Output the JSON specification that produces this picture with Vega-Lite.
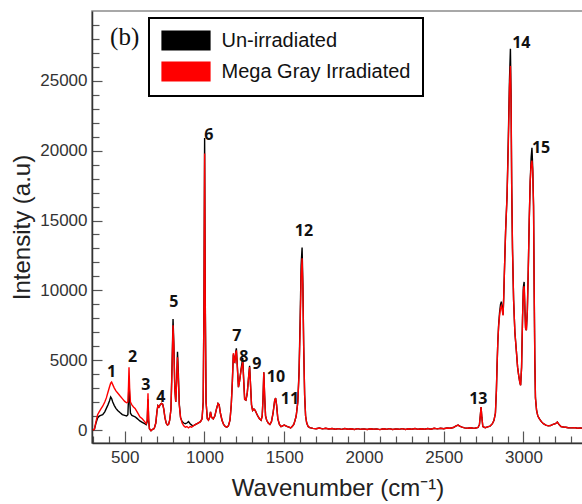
{
  "$schema": "https://vega.github.io/schema/vega-lite/v6.json",
  "width": 491,
  "height": 432,
  "autosize": {"type": "none"},
  "padding": {"left": 92, "top": 11, "right": 0, "bottom": 61},
  "background": "white",
  "config": {"view": {"stroke": "#8c8c8c", "strokeWidth": 1.5}, "font": "Liberation Sans"},
  "datasets": {
    "black": [
      {"x":300,"y":0},{"x":310,"y":60},{"x":320,"y":500},{"x":330,"y":850},{"x":340,"y":1000},{"x":350,"y":1050},{"x":362,"y":1100},{"x":375,"y":1300},{"x":385,"y":1550},{"x":395,"y":1800},{"x":405,"y":2100},{"x":412,"y":2360},{"x":418,"y":2250},{"x":425,"y":2000},{"x":435,"y":1750},{"x":445,"y":1550},{"x":456,"y":1400},{"x":470,"y":1250},{"x":485,"y":1100},{"x":500,"y":1050},{"x":512,"y":1000},{"x":520,"y":1100},{"x":524,"y":2300},{"x":527,"y":3600},{"x":531,"y":2200},{"x":536,"y":1200},{"x":545,"y":1050},{"x":555,"y":1000},{"x":565,"y":950},{"x":575,"y":850},{"x":585,"y":750},{"x":595,"y":650},{"x":610,"y":550},{"x":625,"y":450},{"x":635,"y":380},{"x":641,"y":600},{"x":646,"y":2200},{"x":650,"y":700},{"x":655,"y":100},{"x":665,"y":-50},{"x":675,"y":50},{"x":685,"y":100},{"x":695,"y":500},{"x":702,"y":1300},{"x":708,"y":1750},{"x":715,"y":1650},{"x":722,"y":1800},{"x":730,"y":1900},{"x":738,"y":1850},{"x":745,"y":1500},{"x":752,"y":900},{"x":760,"y":500},{"x":768,"y":350},{"x":775,"y":400},{"x":782,"y":700},{"x":790,"y":1500},{"x":797,"y":4700},{"x":803,"y":7950},{"x":808,"y":6200},{"x":814,"y":3000},{"x":820,"y":2000},{"x":826,"y":3700},{"x":831,"y":5600},{"x":836,"y":4200},{"x":842,"y":1900},{"x":850,"y":900},{"x":860,"y":600},{"x":870,"y":500},{"x":880,"y":450},{"x":890,"y":500},{"x":900,"y":600},{"x":910,"y":450},{"x":920,"y":350},{"x":930,"y":300},{"x":945,"y":400},{"x":960,"y":500},{"x":975,"y":600},{"x":985,"y":800},{"x":992,"y":2000},{"x":997,"y":9500},{"x":1001,"y":20900},{"x":1005,"y":9500},{"x":1010,"y":2000},{"x":1018,"y":800},{"x":1025,"y":700},{"x":1032,"y":900},{"x":1038,"y":1300},{"x":1045,"y":900},{"x":1055,"y":800},{"x":1065,"y":1000},{"x":1075,"y":1500},{"x":1085,"y":1900},{"x":1092,"y":1800},{"x":1100,"y":1200},{"x":1110,"y":700},{"x":1120,"y":400},{"x":1130,"y":250},{"x":1140,"y":200},{"x":1150,"y":300},{"x":1160,"y":700},{"x":1168,"y":1800},{"x":1175,"y":3500},{"x":1181,"y":5400},{"x":1186,"y":5000},{"x":1190,"y":4900},{"x":1196,"y":5600},{"x":1200,"y":5850},{"x":1206,"y":4600},{"x":1213,"y":3070},{"x":1220,"y":3500},{"x":1230,"y":4400},{"x":1240,"y":5150},{"x":1246,"y":3600},{"x":1252,"y":2200},{"x":1260,"y":2140},{"x":1268,"y":2600},{"x":1276,"y":3700},{"x":1283,"y":4600},{"x":1289,"y":3200},{"x":1295,"y":1800},{"x":1302,"y":1400},{"x":1310,"y":1500},{"x":1318,"y":1400},{"x":1326,"y":1200},{"x":1335,"y":1000},{"x":1345,"y":800},{"x":1355,"y":700},{"x":1362,"y":1000},{"x":1367,"y":2200},{"x":1372,"y":4140},{"x":1377,"y":2500},{"x":1383,"y":1000},{"x":1390,"y":700},{"x":1400,"y":500},{"x":1410,"y":400},{"x":1420,"y":600},{"x":1430,"y":1200},{"x":1440,"y":2100},{"x":1446,"y":2290},{"x":1452,"y":1800},{"x":1460,"y":800},{"x":1470,"y":400},{"x":1480,"y":250},{"x":1490,"y":300},{"x":1500,"y":350},{"x":1510,"y":300},{"x":1520,"y":250},{"x":1530,"y":200},{"x":1540,"y":150},{"x":1550,"y":250},{"x":1560,"y":400},{"x":1568,"y":700},{"x":1575,"y":1000},{"x":1585,"y":2000},{"x":1593,"y":4200},{"x":1600,"y":8000},{"x":1606,"y":11800},{"x":1612,"y":13070},{"x":1617,"y":10500},{"x":1622,"y":6000},{"x":1628,"y":2500},{"x":1634,"y":1000},{"x":1641,"y":500},{"x":1650,"y":250},
      {"x":1660,"y":170},{"x":1680,"y":120},{"x":1700,"y":90},{"x":1720,"y":140},{"x":1740,"y":80},{"x":1760,"y":120},{"x":1780,"y":70},{"x":1800,"y":110},{"x":1820,"y":60},{"x":1840,"y":100},{"x":1860,"y":50},{"x":1880,"y":110},{"x":1900,"y":60},{"x":1920,"y":90},{"x":1940,"y":40},{"x":1960,"y":100},{"x":1980,"y":50},{"x":2000,"y":80},{"x":2020,"y":40},{"x":2040,"y":90},{"x":2060,"y":50},{"x":2080,"y":80},{"x":2100,"y":30},{"x":2120,"y":90},{"x":2140,"y":50},{"x":2160,"y":100},{"x":2180,"y":40},{"x":2200,"y":80},{"x":2220,"y":50},{"x":2240,"y":100},{"x":2260,"y":40},{"x":2280,"y":90},{"x":2300,"y":60},{"x":2320,"y":110},{"x":2340,"y":50},{"x":2360,"y":90},{"x":2380,"y":60},{"x":2400,"y":110},{"x":2420,"y":60},{"x":2440,"y":120},{"x":2460,"y":80},{"x":2480,"y":130},{"x":2500,"y":90},{"x":2520,"y":140},{"x":2540,"y":130},{"x":2560,"y":180},{"x":2575,"y":280},{"x":2590,"y":350},{"x":2600,"y":280},{"x":2615,"y":200},{"x":2630,"y":150},{"x":2650,"y":130},{"x":2670,"y":160},{"x":2690,"y":120},{"x":2700,"y":140},{"x":2715,"y":180},
      {"x":2724,"y":400},{"x":2729,"y":1000},{"x":2734,"y":1650},{"x":2739,"y":900},{"x":2745,"y":250},{"x":2760,"y":170},{"x":2775,"y":220},{"x":2790,"y":270},{"x":2805,"y":450},{"x":2815,"y":700},{"x":2824,"y":1200},{"x":2830,"y":2800},{"x":2834,"y":4500},{"x":2839,"y":6300},{"x":2844,"y":7500},{"x":2850,"y":8400},{"x":2856,"y":9000},{"x":2861,"y":9190},{"x":2866,"y":8800},{"x":2872,"y":8250},{"x":2876,"y":9500},{"x":2882,"y":12000},{"x":2888,"y":14300},{"x":2897,"y":16800},{"x":2905,"y":21000},{"x":2912,"y":25000},{"x":2918,"y":27290},{"x":2922,"y":24000},{"x":2926,"y":17500},{"x":2931,"y":13000},{"x":2938,"y":9300},{"x":2946,"y":7000},{"x":2955,"y":5700},{"x":2963,"y":4500},{"x":2970,"y":3900},{"x":2977,"y":3400},{"x":2982,"y":3210},{"x":2988,"y":4500},{"x":2994,"y":8000},{"x":2999,"y":10200},{"x":3004,"y":10600},{"x":3009,"y":8600},{"x":3013,"y":7300},{"x":3018,"y":7140},{"x":3024,"y":8500},{"x":3030,"y":11500},{"x":3036,"y":15000},{"x":3042,"y":17800},{"x":3048,"y":19500},{"x":3053,"y":20200},{"x":3058,"y":18700},{"x":3063,"y":16000},{"x":3067,"y":10000},{"x":3071,"y":5000},{"x":3075,"y":2300},{"x":3082,"y":1400},{"x":3090,"y":1000},{"x":3100,"y":800},{"x":3112,"y":600},{"x":3125,"y":450},{"x":3140,"y":350},{"x":3155,"y":300},{"x":3170,"y":320},{"x":3185,"y":400},{"x":3200,"y":450},{"x":3212,"y":570},{"x":3222,"y":400},{"x":3235,"y":250},{"x":3250,"y":220},{"x":3265,"y":200},{"x":3280,"y":160},{"x":3300,"y":150},{"x":3320,"y":170},{"x":3340,"y":130},{"x":3360,"y":150},{"x":3373,"y":120}
    ],
    "red": [
      {"x":300,"y":0},{"x":310,"y":60},{"x":320,"y":600},{"x":330,"y":1100},{"x":340,"y":1300},{"x":350,"y":1500},{"x":362,"y":1700},{"x":375,"y":2000},{"x":385,"y":2300},{"x":395,"y":2700},{"x":405,"y":3100},{"x":412,"y":3350},{"x":418,"y":3430},{"x":425,"y":3250},{"x":435,"y":3000},{"x":445,"y":2800},{"x":456,"y":2650},{"x":470,"y":2450},{"x":485,"y":2250},{"x":500,"y":2050},{"x":512,"y":1950},{"x":520,"y":2000},{"x":524,"y":3200},{"x":527,"y":4500},{"x":531,"y":3000},{"x":536,"y":2000},{"x":545,"y":1800},{"x":555,"y":1650},{"x":565,"y":1550},{"x":575,"y":1350},{"x":585,"y":1150},{"x":595,"y":950},{"x":610,"y":800},{"x":625,"y":600},{"x":635,"y":450},{"x":641,"y":700},{"x":646,"y":2630},{"x":650,"y":800},{"x":655,"y":100},{"x":665,"y":-50},{"x":675,"y":50},{"x":685,"y":100},{"x":695,"y":500},{"x":702,"y":1300},{"x":708,"y":1750},{"x":715,"y":1650},{"x":722,"y":1800},{"x":730,"y":1900},{"x":738,"y":1850},{"x":745,"y":1500},{"x":752,"y":900},{"x":760,"y":500},{"x":768,"y":350},{"x":775,"y":400},{"x":782,"y":700},{"x":790,"y":1500},{"x":797,"y":4500},{"x":803,"y":7500},{"x":808,"y":6000},{"x":814,"y":3000},{"x":820,"y":2000},{"x":826,"y":3500},{"x":831,"y":5200},{"x":836,"y":3800},{"x":842,"y":1800},{"x":850,"y":900},{"x":860,"y":500},{"x":870,"y":300},{"x":880,"y":200},{"x":890,"y":250},{"x":900,"y":150},{"x":910,"y":250},{"x":920,"y":200},{"x":930,"y":300},{"x":945,"y":400},{"x":960,"y":500},{"x":975,"y":600},{"x":985,"y":800},{"x":992,"y":2000},{"x":997,"y":9000},{"x":1001,"y":19800},{"x":1005,"y":9000},{"x":1010,"y":2000},{"x":1018,"y":800},{"x":1025,"y":700},{"x":1032,"y":900},{"x":1038,"y":1300},{"x":1045,"y":900},{"x":1055,"y":800},{"x":1065,"y":1000},{"x":1075,"y":1500},{"x":1085,"y":1900},{"x":1092,"y":1800},{"x":1100,"y":1200},{"x":1110,"y":700},{"x":1120,"y":400},{"x":1130,"y":250},{"x":1140,"y":200},{"x":1150,"y":300},{"x":1160,"y":700},{"x":1168,"y":1800},{"x":1175,"y":3500},{"x":1181,"y":5500},{"x":1186,"y":5000},{"x":1190,"y":4800},{"x":1196,"y":5500},{"x":1200,"y":5700},{"x":1206,"y":4500},{"x":1213,"y":3070},{"x":1220,"y":3500},{"x":1230,"y":4300},{"x":1240,"y":4860},{"x":1246,"y":3500},{"x":1252,"y":2200},{"x":1260,"y":2140},{"x":1268,"y":2600},{"x":1276,"y":3700},{"x":1283,"y":4500},{"x":1289,"y":3200},{"x":1295,"y":1800},{"x":1302,"y":1400},{"x":1310,"y":1500},{"x":1318,"y":1400},{"x":1326,"y":1200},{"x":1335,"y":1000},{"x":1345,"y":800},{"x":1355,"y":700},{"x":1362,"y":1000},{"x":1367,"y":2200},{"x":1372,"y":4140},{"x":1377,"y":2500},{"x":1383,"y":1000},{"x":1390,"y":700},{"x":1400,"y":500},{"x":1410,"y":400},{"x":1420,"y":600},{"x":1430,"y":1200},{"x":1440,"y":2100},{"x":1446,"y":2290},{"x":1452,"y":1800},{"x":1460,"y":800},{"x":1470,"y":400},{"x":1480,"y":250},{"x":1490,"y":300},{"x":1500,"y":350},{"x":1510,"y":300},{"x":1520,"y":250},{"x":1530,"y":200},{"x":1540,"y":150},{"x":1550,"y":250},{"x":1560,"y":400},{"x":1568,"y":700},{"x":1575,"y":1000},{"x":1585,"y":2000},{"x":1593,"y":4000},{"x":1600,"y":7500},{"x":1606,"y":11000},{"x":1612,"y":12290},{"x":1617,"y":10000},{"x":1622,"y":6000},{"x":1628,"y":2500},{"x":1634,"y":1000},{"x":1641,"y":500},{"x":1650,"y":250},
      {"x":1660,"y":170},{"x":1680,"y":120},{"x":1700,"y":90},{"x":1720,"y":140},{"x":1740,"y":80},{"x":1760,"y":120},{"x":1780,"y":70},{"x":1800,"y":110},{"x":1820,"y":60},{"x":1840,"y":100},{"x":1860,"y":50},{"x":1880,"y":110},{"x":1900,"y":60},{"x":1920,"y":90},{"x":1940,"y":40},{"x":1960,"y":100},{"x":1980,"y":50},{"x":2000,"y":80},{"x":2020,"y":40},{"x":2040,"y":90},{"x":2060,"y":50},{"x":2080,"y":80},{"x":2100,"y":30},{"x":2120,"y":90},{"x":2140,"y":50},{"x":2160,"y":100},{"x":2180,"y":40},{"x":2200,"y":80},{"x":2220,"y":50},{"x":2240,"y":100},{"x":2260,"y":40},{"x":2280,"y":90},{"x":2300,"y":60},{"x":2320,"y":110},{"x":2340,"y":50},{"x":2360,"y":90},{"x":2380,"y":60},{"x":2400,"y":110},{"x":2420,"y":60},{"x":2440,"y":120},{"x":2460,"y":80},{"x":2480,"y":130},{"x":2500,"y":90},{"x":2520,"y":140},{"x":2540,"y":130},{"x":2560,"y":180},{"x":2575,"y":280},{"x":2590,"y":350},{"x":2600,"y":280},{"x":2615,"y":200},{"x":2630,"y":150},{"x":2650,"y":130},{"x":2670,"y":160},{"x":2690,"y":120},{"x":2700,"y":140},{"x":2715,"y":180},
      {"x":2724,"y":400},{"x":2729,"y":1000},{"x":2734,"y":1650},{"x":2739,"y":900},{"x":2745,"y":250},{"x":2760,"y":170},{"x":2775,"y":220},{"x":2790,"y":270},{"x":2805,"y":450},{"x":2815,"y":700},{"x":2824,"y":1200},{"x":2830,"y":2800},{"x":2834,"y":4500},{"x":2839,"y":6300},{"x":2844,"y":7400},{"x":2850,"y":8200},{"x":2856,"y":8750},{"x":2861,"y":8900},{"x":2866,"y":8600},{"x":2872,"y":8200},{"x":2876,"y":9500},{"x":2882,"y":12000},{"x":2888,"y":14300},{"x":2897,"y":16800},{"x":2905,"y":20500},{"x":2912,"y":24500},{"x":2918,"y":26070},{"x":2922,"y":23500},{"x":2926,"y":17500},{"x":2931,"y":13000},{"x":2938,"y":9300},{"x":2946,"y":7000},{"x":2955,"y":5700},{"x":2963,"y":4500},{"x":2970,"y":3900},{"x":2977,"y":3400},{"x":2982,"y":3210},{"x":2988,"y":4500},{"x":2994,"y":8000},{"x":2999,"y":10000},{"x":3004,"y":10300},{"x":3009,"y":8500},{"x":3013,"y":7300},{"x":3018,"y":7140},{"x":3024,"y":8500},{"x":3030,"y":11500},{"x":3036,"y":15000},{"x":3042,"y":17800},{"x":3048,"y":19000},{"x":3053,"y":19290},{"x":3058,"y":18500},{"x":3063,"y":16000},{"x":3067,"y":10000},{"x":3071,"y":5000},{"x":3075,"y":2300},{"x":3082,"y":1400},{"x":3090,"y":1000},{"x":3100,"y":800},{"x":3112,"y":600},{"x":3125,"y":450},{"x":3140,"y":350},{"x":3155,"y":300},{"x":3170,"y":320},{"x":3185,"y":400},{"x":3200,"y":450},{"x":3212,"y":570},{"x":3222,"y":400},{"x":3235,"y":250},{"x":3250,"y":220},{"x":3265,"y":200},{"x":3280,"y":160},{"x":3300,"y":150},{"x":3320,"y":170},{"x":3340,"y":130},{"x":3360,"y":150},{"x":3373,"y":120}
    ],
    "peaks": [
      {"label":"1","x":418,"y":4155},{"label":"2","x":550,"y":5230},{"label":"3","x":632,"y":3220},{"label":"4","x":726,"y":2360},{"label":"5","x":808,"y":9170},{"label":"6","x":1028,"y":21130},{"label":"7","x":1203,"y":6730},{"label":"8","x":1247,"y":5230},{"label":"9","x":1329,"y":4730},{"label":"10","x":1448,"y":3800},{"label":"11","x":1536,"y":2220},{"label":"12","x":1624,"y":14250},{"label":"13","x":2717,"y":2220},{"label":"14","x":2986,"y":27720},{"label":"15","x":3110,"y":20200}
    ]
  },
  "layer": [
    {
      "data": {"name": "black"},
      "mark": {"type": "line", "strokeWidth": 1.4, "clip": true},
      "encoding": {
        "x": {
          "field": "x", "type": "quantitative",
          "scale": {"domain": [295, 3373], "nice": false, "zero": false},
          "axis": {
            "title": "Wavenumber (cm⁻¹)",
            "values": [300,400,500,600,700,800,900,1000,1100,1200,1300,1400,1500,1600,1700,1800,1900,2000,2100,2200,2300,2400,2500,2600,2700,2800,2900,3000,3100,3200,3300],
            "tickCount": 100,
            "format": "d",
            "labelExpr": "datum.value % 500 === 0 ? datum.label : ''",
            "grid": false,
            "domainColor": "#333333", "domainWidth": 1.5,
            "tickColor": "#555555", "tickWidth": 1.2,
            "tickSize": {"condition": {"test": "datum.value % 500 === 0", "value": -12}, "value": -7},
            "labelFont": "Liberation Sans", "labelFontSize": 17, "labelColor": "#333333",
            "labelPadding": 18, "labelFlush": false, "labelOverlap": false,
            "titleFont": "Liberation Sans", "titleFontSize": 24, "titleFontWeight": "normal", "titleColor": "#222222",
            "titlePadding": 6
          }
        },
        "y": {
          "field": "y", "type": "quantitative",
          "scale": {"domain": [-930, 30000], "nice": false, "zero": false},
          "axis": {
            "title": "Intensity (a.u)",
            "values": [0,1000,2000,3000,4000,5000,6000,7000,8000,9000,10000,11000,12000,13000,14000,15000,16000,17000,18000,19000,20000,21000,22000,23000,24000,25000,26000,27000,28000,29000],
            "tickCount": 100,
            "format": "d",
            "labelExpr": "datum.value % 5000 === 0 ? datum.label : ''",
            "grid": false,
            "domainColor": "#333333", "domainWidth": 1.5,
            "tickColor": "#555555", "tickWidth": 1.2,
            "tickSize": {"condition": {"test": "datum.value % 5000 === 0", "value": -10}, "value": -7},
            "labelFont": "Liberation Sans", "labelFontSize": 17, "labelColor": "#333333",
            "labelPadding": 15, "labelFlush": false, "labelOverlap": false,
            "titleFont": "Liberation Sans", "titleFontSize": 24, "titleFontWeight": "normal", "titleColor": "#222222",
            "titlePadding": 5
          }
        },
        "color": {
          "datum": "Un-irradiated", "type": "nominal",
          "scale": {"domain": ["Un-irradiated", "Mega Gray Irradiated"], "range": ["#000000", "#ff0000"]},
          "legend": {
            "orient": "none", "legendX": 57, "legendY": 7, "title": null,
            "strokeColor": "#000000", "fillColor": "#ffffff",
            "padding": 12, "rowPadding": 6,
            "symbolType": "M-2.526,-1H2.526V1H-2.526Z", "symbolSize": 361,
            "symbolStrokeColor": "#000000", "symbolStrokeWidth": 1.2,
            "symbolOffset": 14.5, "labelOffset": 25,
            "labelFont": "Liberation Sans", "labelFontSize": 20, "labelColor": "#111111", "labelLimit": 400,
            "encode": {
              "symbols": {"update": {"fill": {"scale": "color", "field": "value"}, "fillOpacity": {"value": 1}, "stroke": {"value": "#000000"}, "strokeWidth": {"value": 1.2}}},
              "legend": {"update": {"stroke": {"value": "#000000"}, "strokeWidth": {"value": 2}}}
            }
          }
        }
      }
    },
    {
      "data": {"name": "red"},
      "mark": {"type": "line", "strokeWidth": 1.4, "clip": true},
      "encoding": {
        "x": {"field": "x", "type": "quantitative"},
        "y": {"field": "y", "type": "quantitative"},
        "color": {"datum": "Mega Gray Irradiated", "type": "nominal"}
      }
    },
    {
      "data": {"name": "peaks"},
      "mark": {"type": "text", "font": "Open Sans", "fontWeight": "bold", "fontSize": 16, "color": "#111111", "align": "center", "baseline": "middle"},
      "encoding": {
        "x": {"field": "x", "type": "quantitative"},
        "y": {"field": "y", "type": "quantitative"},
        "text": {"field": "label"}
      }
    },
    {
      "data": {"values": [{"x": 500, "y": 28150, "t": "(b)"}]},
      "mark": {"type": "text", "font": "Liberation Serif", "fontSize": 25, "color": "#111111", "align": "center", "baseline": "middle"},
      "encoding": {
        "x": {"field": "x", "type": "quantitative"},
        "y": {"field": "y", "type": "quantitative"},
        "text": {"field": "t"}
      }
    }
  ]
}
